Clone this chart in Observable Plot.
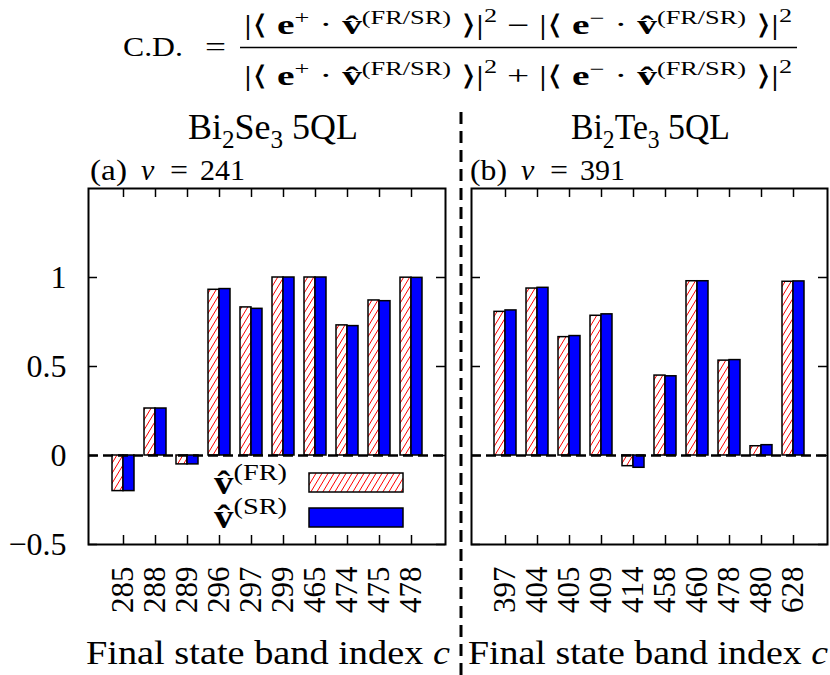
<!DOCTYPE html>
<html>
<head>
<meta charset="utf-8">
<script src="https://cdn.jsdelivr.net/npm/d3@7"></script>
<script src="https://cdn.jsdelivr.net/npm/@observablehq/plot@0.6"></script>
<style>
  html, body { margin: 0; padding: 0; background: #fff; }
  #wrap { position: relative; width: 830px; height: 675px; overflow: hidden; background: #fff; font-family: 'Liberation Serif', serif; }
  #wrap > svg { position: absolute; }
  #overlay { left: 0; top: 0; pointer-events: none; z-index: 5; }
</style>
</head>
<body>
<div id="wrap"></div>
<script>
// ---------- data ----------
const catsA = ["285","288","289","296","297","299","465","474","475","478"];
const frA   = [-0.20, 0.264, -0.05, 0.931, 0.832, 1.00, 1.00, 0.731, 0.871, 0.999];
const srA   = [-0.20, 0.264, -0.05, 0.935, 0.824, 1.00, 1.00, 0.727, 0.867, 0.998];

const catsB = ["397","404","405","409","414","458","460","478","480","628"];
const frB   = [0.807, 0.938, 0.665, 0.785, -0.060, 0.449, 0.979, 0.533, 0.052, 0.976];
const srB   = [0.815, 0.942, 0.671, 0.793, -0.069, 0.445, 0.979, 0.536, 0.058, 0.978];

const yDomain = [-0.5, 1.5];
const yTicks = [-0.5, 0, 0.5, 1];
const panelTitles = ["Bi|2|Se|3| 5QL", "Bi|2|Te|3| 5QL"];
const panelTags = [["(a)", "241"], ["(b)", "391"]];
const xLabel = "Final state band index ";
const seriesNames = ["FR", "SR"];

const FONT = "'Liberation Serif', serif";
const wrap = document.getElementById("wrap");
const PH = 525, MT = 38, MB = 131;
const TICK = 9;

function makePanel(cats, fr, sr, opts) {
  const data = cats.map((c, i) => ({c, fr: fr[i], sr: sr[i]}));
  const fmt = d => d < 0 ? "\u2212" + Math.abs(d) : String(d);
  const fw = opts.width - opts.ml - opts.mr;   // frame width
  const fh = PH - MT - MB;                      // frame height
  return Plot.plot({
    width: opts.width,
    height: PH,
    marginTop: MT,
    marginBottom: MB,
    marginLeft: opts.ml,
    marginRight: opts.mr,
    style: {fontFamily: FONT, fontSize: "32px", color: "black", background: "transparent", overflow: "visible"},
    x: {type: "band", domain: cats, paddingInner: 0.322, paddingOuter: 0.661, align: 0.5},
    y: {domain: yDomain},
    marks: [
      Plot.barY(data, {x: "c", y: "fr", fill: "url(#hatchFR)", stroke: "black", strokeWidth: 1.5, insetRight: 11}),
      Plot.barY(data, {x: "c", y: "sr", fill: "#0000ff", stroke: "black", strokeWidth: 1.5, insetLeft: 11}),
      Plot.ruleY([0], {stroke: "black", strokeWidth: 2.5, strokeDasharray: "10,5"}),
      // inward ticks
      Plot.tickY(yTicks, {y: d => d, stroke: "black", strokeWidth: 1.5, insetRight: fw - TICK}),
      Plot.tickY(yTicks, {y: d => d, stroke: "black", strokeWidth: 1.5, insetLeft: fw - TICK}),
      Plot.tickX(cats, {x: d => d, stroke: "black", strokeWidth: 1.5, insetTop: fh - TICK}),
      Plot.tickX(cats, {x: d => d, stroke: "black", strokeWidth: 1.5, insetBottom: fh - TICK}),
      // labels
      Plot.axisY({ticks: yTicks, tickSize: 0, tickPadding: 22, fontSize: 32,
                  tickFormat: opts.yLabels ? fmt : () => "", label: null}),
      Plot.axisX({tickSize: 0, tickPadding: 22, tickRotate: -90, fontSize: 31, label: null}),
      Plot.frame({stroke: "black", strokeWidth: 2})
    ]
  });
}

const pA = makePanel(catsA, frA, srA, {width: 455, ml: 88, mr: 10, yLabels: true});
pA.style.left = "0px"; pA.style.top = "150px";
wrap.appendChild(pA);
const pB = makePanel(catsB, frB, srB, {width: 368, ml: 9, mr: 3, yLabels: false});
pB.style.left = "462px"; pB.style.top = "150px";
wrap.appendChild(pB);

// ---------- overlay: texts, legend, divider ----------
const ov = d3.select(wrap).append("svg").attr("id", "overlay").attr("width", 830).attr("height", 675)
  .attr("font-family", FONT);
const defs = ov.append("defs");
const pat = defs.append("pattern").attr("id", "hatchFR").attr("patternUnits", "userSpaceOnUse")
  .attr("width", 6).attr("height", 10);
pat.append("rect").attr("width", 6).attr("height", 10).attr("fill", "white");
pat.append("path").attr("d", "M-6,10L0,0M0,10L6,0M6,10L12,0").attr("stroke", "#ff0000").attr("stroke-width", 1);

function rich(sel, x, y, size, pieces, supSize, supRaise) {
  const t = sel.append("text").attr("x", x).attr("y", y).attr("font-size", size).attr("fill", "black");
  const ss = supSize || 0.7 * size;
  const sr = supRaise || 0.42;
  let shift = 0;
  for (const [s, kind] of pieces) {
    const sp = t.append("tspan").text(s);
    let target = 0, fs = size;
    if (kind === "sup") { target = -sr * size; fs = ss; }
    else if (kind === "sup2") { target = -(sr + 0.1) * size; fs = ss; }
    else if (kind === "sub") { target = 0.25 * size; fs = 0.7 * size; }
    if (kind === "b") sp.attr("font-weight", "bold");
    if (kind === "i") sp.attr("font-style", "italic");
    if (target - shift !== 0) sp.attr("dy", target - shift);
    sp.attr("font-size", fs);
    shift = target;
  }
  return t;
}
// horizontally fit a text to a target box [x0, x1]
function fitX(t, x0, x1) {
  const bb = t.node().getBBox();
  const k = (x1 - x0) / bb.width;
  t.attr("transform", `translate(${x0},0) scale(${k},1) translate(${-bb.x},0)`);
}

// formula
ov.append("text").attr("x", 123).attr("y", 56).attr("font-size", 28).text("C.D.")
  .call(t => fitX(t, 123, 183));
ov.append("text").attr("x", 205).attr("y", 56).attr("font-size", 28).text("=")
  .call(t => fitX(t, 205, 226));
const frac = (sign) => [["|\u27E8 ", "n"], ["e", "b"], ["+", "sup"], [" \u00B7 ", "n"], ["v\u0302", "b"], ["(FR/SR)", "sup"],
  [" \u27E9|", "n"], ["2", "sup2"], [" " + sign + " |\u27E8 ", "n"], ["e", "b"], ["\u2212", "sup"], [" \u00B7 ", "n"],
  ["v\u0302", "b"], ["(FR/SR)", "sup"], [" \u27E9|", "n"], ["2", "sup2"]];
rich(ov, 244, 34, 27, frac("\u2212"), 18, 0.36).call(t => fitX(t, 244, 796));
rich(ov, 244, 85, 27, frac("+"), 18, 0.36).call(t => fitX(t, 244, 796));
ov.append("line").attr("x1", 240).attr("x2", 797).attr("y1", 47.5).attr("y2", 47.5).attr("stroke", "black").attr("stroke-width", 1.4);

// panel titles
const titleBox = [[188, 358], [571, 730]];
panelTitles.forEach((s, i) => {
  const pieces = s.split("|").map((p, j) => [p, j % 2 ? "sub" : "n"]);
  rich(ov, titleBox[i][0], 139, 35, pieces).call(t => fitX(t, titleBox[i][0], titleBox[i][1]));
});
// panel tags
const tagX = [90, 470];
panelTags.forEach(([tag, v], i) => {
  const x0 = tagX[i];
  ov.append("text").attr("x", x0).attr("y", 180).attr("font-size", 30).text(tag).call(t => fitX(t, x0, x0 + 37));
  ov.append("text").attr("x", x0 + 51).attr("y", 180).attr("font-size", 30).attr("font-style", "italic").text("v");
  ov.append("text").attr("x", x0 + 80).attr("y", 180).attr("font-size", 30).text("=").call(t => fitX(t, x0 + 80, x0 + 98));
  ov.append("text").attr("x", x0 + 110).attr("y", 180).attr("font-size", 30).text(v).call(t => fitX(t, x0 + 110, x0 + 155));
});
// x labels
[[86, 450], [468, 828]].forEach(([a, b]) => {
  rich(ov, a, 664, 34, [[xLabel, "n"], ["c", "i"]]).call(t => fitX(t, a, b));
});

// legend
const leg = [{name: seriesNames[0], fill: "url(#hatchFR)", y: 473, ty: 494},
             {name: seriesNames[1], fill: "#0000ff", y: 508, ty: 528}];
leg.forEach(l => {
  rich(ov, 214, l.ty, 33, [["v\u0302", "b"], ["(" + l.name + ")", "sup"]], 24).call(t => fitX(t, 214, 287));
  ov.append("rect").attr("x", 309).attr("y", l.y).attr("width", 94).attr("height", 19)
    .attr("fill", l.fill).attr("stroke", "black").attr("stroke-width", 1.5);
});

// dashed divider
ov.append("line").attr("x1", 461).attr("x2", 461).attr("y1", 112).attr("y2", 675)
  .attr("stroke", "black").attr("stroke-width", 3).attr("stroke-dasharray", "12,7");
</script>
</body>
</html>
